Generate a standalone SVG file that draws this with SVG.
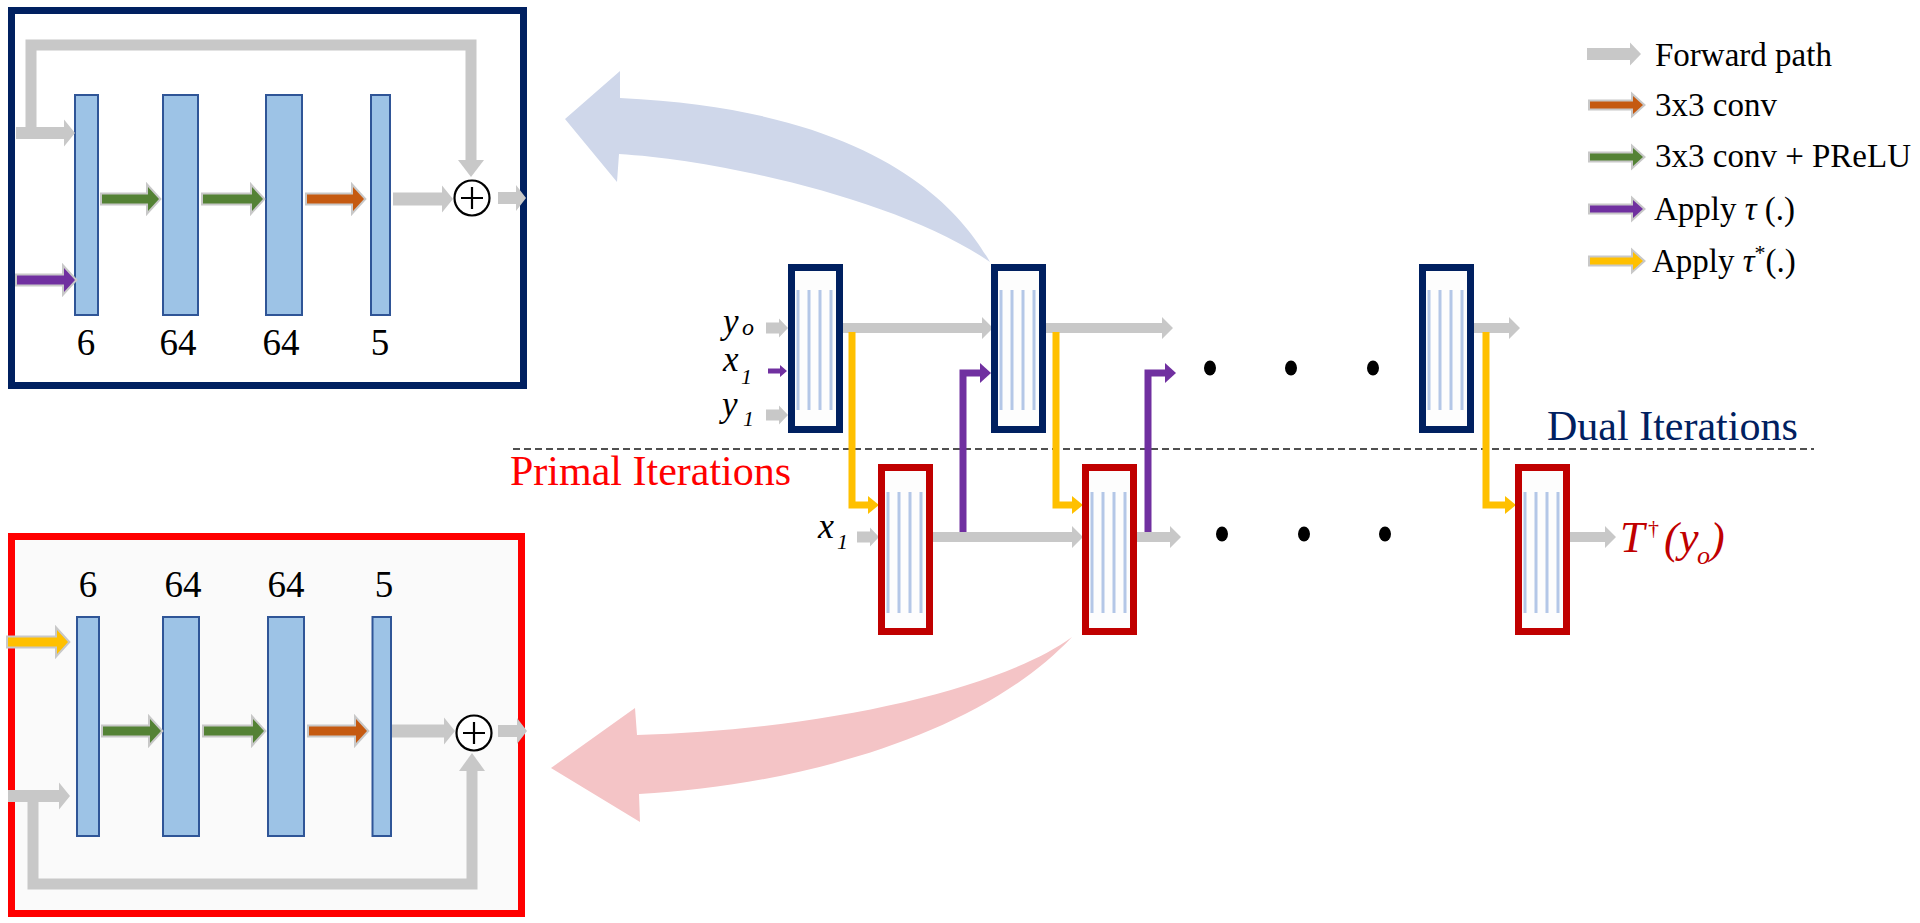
<svg xmlns="http://www.w3.org/2000/svg" width="1920" height="923" viewBox="0 0 1920 923">
<style>
text{font-family:"Liberation Serif","Times New Roman",serif;fill:#000}
.num{font-family:"Liberation Serif","Times New Roman",serif;font-size:37px;text-anchor:middle}
.leg{font-size:33px}
.it{font-style:italic}
.g{fill:#C8C8C8}
.gs{fill:none;stroke:#C8C8C8;stroke-width:11;stroke-linejoin:miter}
.ca{stroke:#C8C8C8;stroke-width:4;paint-order:stroke;stroke-linejoin:miter}
.grn{fill:#548235}
.org{fill:#C55A11}
.pur{fill:#7030A0}
.yel{fill:#FFC000}
.bar{fill:#9DC3E6;stroke:#2F5597;stroke-width:2}
.dual{fill:#FDFDFD;stroke:#002060;stroke-width:7}
.prim{fill:#FDFDFD;stroke:#C00000;stroke-width:7}
.ln{stroke:#B4C7E7;stroke-width:3}
.ys{fill:none;stroke:#FFC000;stroke-width:7}
.ps{fill:none;stroke:#7030A0;stroke-width:7}
.dot{fill:#000}
.red{fill:#C00000}
</style>

<!-- big curved arrows -->
<g id="curved-arrows">
<path d="M990,262 C960,210 880,110 620,98 L620,71 L565,119 L617,182 L619,154 C720,160 900,200 990,262 Z" fill="#CFD7EA"/>
<path d="M1072,637 C1000,690 820,730 637,735 L635,708 L551,768 L640,822 L639,794 C800,785 980,735 1072,637 Z" fill="#F4C4C6"/>
</g>

<!-- dual detail box -->
<g id="dual-detail">
<rect x="11.5" y="10.5" width="512" height="375" fill="#FFFFFF" stroke="#002060" stroke-width="7"/>
<rect class="bar" x="75" y="95" width="23" height="220"/>
<rect class="bar" x="163" y="95" width="35" height="220"/>
<rect class="bar" x="266" y="95" width="36" height="220"/>
<rect class="bar" x="371" y="95" width="19" height="220"/>
<path class="gs" d="M31,133 V45 H471 V162"/>
<path class="g" d="M458,160 H484 L471,177 Z"/>
<path class="g" d="M16,127 H64 V119.5 L75,133 L64,146.5 V139 H16Z"/>
<path class="grn ca" d="M102,194.5 H148 V187 L159,199 L148,211 V203.5 H102Z"/>
<path class="grn ca" d="M203,194.5 H252 V187 L263,199 L252,211 V203.5 H203Z"/>
<path class="org ca" d="M307,194.5 H353 V187 L364,199 L353,211 V203.5 H307Z"/>
<path class="g" d="M393,192.5 H442 V185.5 L453,199 L442,212.5 V205.5 H393Z"/>
<circle cx="472" cy="198" r="17.5" fill="#FFFFFF" stroke="#000" stroke-width="2.2"/>
<path d="M461,198 H483 M472,187 V209" stroke="#000" stroke-width="2.2"/>
<path class="g" d="M498,192 H516 V185 L526,198 L516,211 V204 H498Z"/>
<path class="pur ca" d="M17,275.5 H64 V268 L75,280 L64,292 V284.5 H17Z"/>
<text class="num" x="86" y="355">6</text>
<text class="num" x="178" y="355">64</text>
<text class="num" x="281" y="355">64</text>
<text class="num" x="380" y="355">5</text>
</g>

<!-- primal detail box -->
<g id="primal-detail">
<rect x="11.5" y="536.5" width="510" height="377" fill="#FAFAFA" stroke="#FF0000" stroke-width="7"/>
<rect class="bar" x="77" y="617" width="22" height="219"/>
<rect class="bar" x="163" y="617" width="36" height="219"/>
<rect class="bar" x="268" y="617" width="36" height="219"/>
<rect class="bar" x="372.5" y="617" width="18.5" height="219"/>
<path class="gs" d="M33,796 V884 H472 V770"/>
<path class="g" d="M459,771 H485 L472,753 Z"/>
<path class="g" d="M8,790 H59 V782.5 L70,796 L59,809.5 V802 H8Z"/>
<path class="yel ca" d="M8,637.5 H57 V630 L68,642 L57,654 V646.5 H8Z"/>
<path class="grn ca" d="M103,726.5 H150 V719 L161,731 L150,743 V735.5 H103Z"/>
<path class="grn ca" d="M204,726.5 H253 V719 L264,731 L253,743 V735.5 H204Z"/>
<path class="org ca" d="M309,726.5 H356 V719 L367,731 L356,743 V735.5 H309Z"/>
<path class="g" d="M392,724.5 H444 V717.5 L455,731 L444,744.5 V737.5 H392Z"/>
<circle cx="474" cy="733" r="17.5" fill="#FFFFFF" stroke="#000" stroke-width="2.2"/>
<path d="M463,733 H485 M474,722 V744" stroke="#000" stroke-width="2.2"/>
<path class="g" d="M498,725 H517 V718 L527,731 L517,744 V737 H498Z"/>
<text class="num" x="88" y="597">6</text>
<text class="num" x="183" y="597">64</text>
<text class="num" x="286" y="597">64</text>
<text class="num" x="384" y="597">5</text>
</g>

<!-- separator -->
<line x1="513" y1="449" x2="1814" y2="449" stroke="#505050" stroke-width="2" stroke-dasharray="7 4"/>
<text x="1547" y="440" font-size="42" style="fill:#002060">Dual Iterations</text>
<text x="510" y="485" font-size="42" style="fill:#FF0000">Primal Iterations</text>

<!-- connectors -->
<g id="connectors">
<path class="g" d="M843,323 H982 V317 L993,328 L982,339 V333 H843Z"/>
<path class="g" d="M1046,323 H1162 V317 L1173,328 L1162,339 V333 H1046Z"/>
<path class="g" d="M1474,323 H1509 V317 L1520,328 L1509,339 V333 H1474Z"/>
<path class="g" d="M766,322.5 H779 V318.5 L788,328 L779,337.5 V333.5 H766Z"/>
<path class="g" d="M766,409.5 H779 V405.5 L788,415 L779,424.5 V420.5 H766Z"/>
<path class="pur" d="M768,368.5 H780 V365 L787,371 L780,377 V373.5 H768Z"/>
<path class="g" d="M857,531.5 H870 V527.5 L879,537 L870,546.5 V542.5 H857Z"/>
<path class="ps" d="M963,533 V373 H981"/>
<path class="pur" d="M980,363 L991,373 L980,383Z"/>
<path class="ps" d="M1148,533 V373 H1166"/>
<path class="pur" d="M1165,363 L1176,373 L1165,383Z"/>
<path class="g" d="M933,532 H1072 V526 L1083,537 L1072,548 V542 H933Z"/>
<path class="g" d="M1137,532 H1170 V526 L1181,537 L1170,548 V542 H1137Z"/>
<path class="g" d="M1570,532 H1605 V526 L1616,537 L1605,548 V542 H1570Z"/>
<path class="ys" d="M852,332 V505 H869"/>
<path class="yel" d="M868,496 L879,505 L868,514Z"/>
<path class="ys" d="M1056,332 V505 H1073"/>
<path class="yel" d="M1072,496 L1083,505 L1072,514Z"/>
<path class="ys" d="M1486,332 V505 H1506"/>
<path class="yel" d="M1505,496 L1516,505 L1505,514Z"/>
</g>

<!-- dual nodes -->
<g id="dual-1">
<rect class="dual" x="791.5" y="267.5" width="48" height="162"/>
<path class="ln" d="M798,290 V410 M809,290 V410 M820,290 V410 M831,290 V410"/>
</g>
<g id="dual-2">
<rect class="dual" x="994.5" y="267.5" width="48" height="162"/>
<path class="ln" d="M1001,290 V410 M1012,290 V410 M1023,290 V410 M1034,290 V410"/>
</g>
<g id="dual-3">
<rect class="dual" x="1422.5" y="267.5" width="48" height="162"/>
<path class="ln" d="M1429,290 V410 M1440,290 V410 M1451,290 V410 M1462,290 V410"/>
</g>

<!-- primal nodes -->
<g id="primal-1">
<rect class="prim" x="881.5" y="467.5" width="48" height="164"/>
<path class="ln" d="M888,492 V613 M899,492 V613 M910,492 V613 M921,492 V613"/>
</g>
<g id="primal-2">
<rect class="prim" x="1085.5" y="467.5" width="48" height="164"/>
<path class="ln" d="M1092,492 V613 M1103,492 V613 M1114,492 V613 M1125,492 V613"/>
</g>
<g id="primal-3">
<rect class="prim" x="1518.5" y="467.5" width="48" height="164"/>
<path class="ln" d="M1525,492 V613 M1536,492 V613 M1547,492 V613 M1558,492 V613"/>
</g>

<!-- ellipsis dots -->
<g id="dots">
<ellipse class="dot" cx="1210" cy="368" rx="6" ry="7.5"/>
<ellipse class="dot" cx="1291" cy="368" rx="6" ry="7.5"/>
<ellipse class="dot" cx="1373" cy="368" rx="6" ry="7.5"/>
<ellipse class="dot" cx="1222" cy="534" rx="6" ry="7.5"/>
<ellipse class="dot" cx="1304" cy="534" rx="6" ry="7.5"/>
<ellipse class="dot" cx="1385" cy="534" rx="6" ry="7.5"/>
</g>

<!-- input / output labels -->
<g id="labels">
<text class="it" x="723" y="333" font-size="35">y</text>
<text class="it" x="742" y="335" font-size="24">o</text>
<text class="it" x="723" y="371" font-size="35">x</text>
<text class="it" x="741" y="384" font-size="22">1</text>
<text class="it" x="722" y="416" font-size="35">y</text>
<text class="it" x="743" y="426" font-size="22">1</text>
<text class="it" x="818" y="538" font-size="36">x</text>
<text class="it" x="837" y="549" font-size="22">1</text>
<text class="it red" x="1620" y="552" font-size="44">T</text>
<text class="red" x="1648" y="535" font-size="22">†</text>
<text class="it red" x="1664" y="553" font-size="44">(</text>
<text class="it red" x="1679" y="552" font-size="44">y</text>
<text class="it red" x="1697" y="564" font-size="26">o</text>
<text class="it red" x="1710" y="553" font-size="44">)</text>
</g>

<!-- legend -->
<g id="legend">
<path class="g" d="M1587,48 H1630 V42.5 L1641,54 L1630,65.5 V60 H1587Z"/>
<path class="org ca" d="M1590,101.5 H1633 V96 L1643,105 L1633,114 V108.5 H1590Z"/>
<path class="grn ca" d="M1590,153.5 H1633 V148 L1643,157 L1633,166 V160.5 H1590Z"/>
<path class="pur ca" d="M1590,205.5 H1633 V200 L1643,209 L1633,218 V212.5 H1590Z"/>
<path class="yel ca" d="M1590,257.5 H1633 V252 L1643,261 L1633,270 V264.5 H1590Z"/>
<text class="leg" x="1655" y="66">Forward path</text>
<text class="leg" x="1655" y="116">3x3 conv</text>
<text class="leg" x="1655" y="167">3x3 conv + PReLU</text>
<text class="leg" x="1654" y="220">Apply <tspan class="it">τ</tspan> (.)</text>
<text class="leg" x="1652" y="272">Apply <tspan class="it">τ</tspan><tspan font-size="22" dy="-12">*</tspan><tspan dy="12">(.)</tspan></text>
</g>
</svg>
